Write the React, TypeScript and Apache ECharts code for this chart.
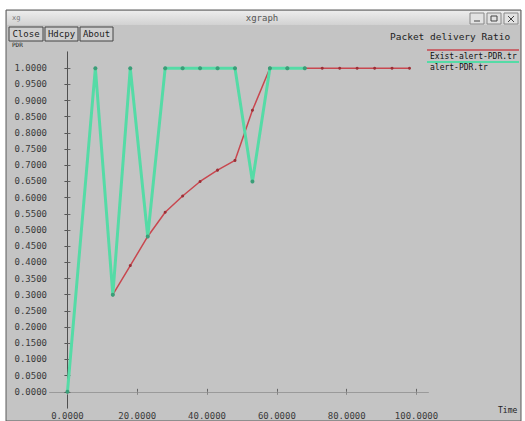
import React, { useEffect, useRef } from "react";
import * as echarts from "echarts";

const xTicks = [0, 20, 40, 60, 80, 100];
const yTicks = [0, 0.05, 0.1, 0.15, 0.2, 0.25, 0.3, 0.35, 0.4, 0.45, 0.5, 0.55, 0.6, 0.65, 0.7, 0.75, 0.8, 0.85, 0.9, 0.95, 1.0];

const redName = "Exist-alert-PDR.tr";
const redX = [13, 18, 23, 28, 33, 38, 43, 48, 53, 58, 63, 68, 73, 78, 83, 88, 93, 98];
const redY = [0.3, 0.39, 0.48, 0.555, 0.605, 0.65, 0.685, 0.715, 0.87, 1, 1, 1, 1, 1, 1, 1, 1, 1];

const greenName = "alert-PDR.tr";
const greenX = [0, 8, 13, 18, 23, 28, 33, 38, 43, 48, 53, 58, 63, 68];
const greenY = [0, 1, 0.3, 1, 0.48, 1, 1, 1, 1, 1, 0.65, 1, 1, 1];

const RED = "#c8474f";
const GREEN = "#55dba6";
const MONO = "DejaVu Sans Mono";

export default function App() {
  const ref = useRef<HTMLDivElement>(null);
  useEffect(() => {
    if (!ref.current) return;
    const chart = echarts.init(ref.current, undefined, { renderer: "svg" });
    const axisLineStyle = { color: "#7a7a7a", width: 1 };
    const labelStyle = { color: "#3a3a3a", fontSize: 9, fontFamily: MONO };
    const mkBtn = (x: number, w: number, label: string) => [
      { type: "rect", z: -5, shape: { x, y: 27, width: w, height: 14 }, style: { fill: "#cfcfcf", stroke: "#444", lineWidth: 1 } },
      { type: "text", z: -4, x: x + w / 2, y: 34, style: { text: label, fill: "#222", font: `9px ${MONO}`, align: "center", verticalAlign: "middle" } },
    ];
    const option: any = {
      animation: false,
      backgroundColor: "#ffffff",
      grid: { left: 50, top: 52, width: 378, height: 356 },
      xAxis: [
        {
          type: "value", min: -5, max: 103.3, position: "bottom",
          axisLine: { show: true, lineStyle: axisLineStyle },
          axisTick: { show: true, inside: true, length: 3, customValues: xTicks, lineStyle: { color: "#666" } },
          axisLabel: { customValues: xTicks, formatter: (v: number) => v.toFixed(4), margin: 3, ...labelStyle },
          splitLine: { show: false },
        },
        {
          type: "value", min: -5, max: 103.3, position: "top",
          axisLine: { show: true, lineStyle: { color: "#9a9a9a", width: 1 } },
          axisTick: { show: true, inside: true, length: 3, customValues: xTicks, lineStyle: { color: "#888" } },
          axisLabel: { show: false },
          splitLine: { show: false },
        },
      ],
      yAxis: [
        {
          type: "value", min: -0.05, max: 1.05, position: "left",
          axisLine: { show: true, lineStyle: axisLineStyle },
          axisTick: { show: true, inside: true, length: 3, customValues: yTicks, lineStyle: { color: "#666" } },
          axisLabel: { customValues: yTicks, formatter: (v: number) => v.toFixed(4), margin: 3, ...labelStyle },
          splitLine: { show: false },
        },
        {
          type: "value", min: -0.05, max: 1.05, position: "right",
          axisLine: { show: true, lineStyle: { color: "#505050", width: 1 } },
          axisTick: { show: true, inside: true, length: 3, customValues: yTicks, lineStyle: { color: "#555" } },
          axisLabel: { show: false },
          splitLine: { show: false },
        },
      ],
      graphic: [
        { type: "rect", z: -10, shape: { x: 6, y: 10, width: 515, height: 411 }, style: { fill: "#c4c4c4", stroke: "#5a5a5a", lineWidth: 1 } },
        {
          type: "rect", z: -9, shape: { x: 7, y: 11, width: 513, height: 14 },
          style: { fill: new echarts.graphic.LinearGradient(0, 0, 0, 1, [{ offset: 0, color: "#ececec" }, { offset: 1, color: "#d2d2d2" }]) },
        },
        { type: "text", z: -8, x: 262, y: 18, style: { text: "xgraph", fill: "#555", font: `9px ${MONO}`, align: "center", verticalAlign: "middle" } },
        { type: "text", z: -8, x: 12, y: 18, style: { text: "xg", fill: "#777", font: `7px ${MONO}`, verticalAlign: "middle" } },
        { type: "rect", z: -8, shape: { x: 470, y: 13, width: 14, height: 11 }, style: { fill: "#e2e2e2", stroke: "#888" } },
        { type: "rect", z: -8, shape: { x: 487, y: 13, width: 14, height: 11 }, style: { fill: "#e2e2e2", stroke: "#888" } },
        { type: "rect", z: -8, shape: { x: 504, y: 13, width: 14, height: 11 }, style: { fill: "#e2e2e2", stroke: "#888" } },
        { type: "line", z: -7, shape: { x1: 474, y1: 21, x2: 480, y2: 21 }, style: { stroke: "#444", lineWidth: 1 } },
        { type: "rect", z: -7, shape: { x: 491, y: 16, width: 6, height: 5 }, style: { fill: "none", stroke: "#444", lineWidth: 1 } },
        { type: "line", z: -7, shape: { x1: 508, y1: 16, x2: 514, y2: 22 }, style: { stroke: "#444", lineWidth: 1 } },
        { type: "line", z: -7, shape: { x1: 514, y1: 16, x2: 508, y2: 22 }, style: { stroke: "#444", lineWidth: 1 } },
        ...mkBtn(9, 34, "Close"),
        ...mkBtn(45, 33, "Hdcpy"),
        ...mkBtn(80, 33, "About"),
        { type: "text", z: -4, x: 390, y: 36, style: { text: "Packet delivery Ratio", fill: "#222", font: `9.5px ${MONO}`, verticalAlign: "middle" } },
        { type: "text", z: -4, x: 12, y: 44, style: { text: "PDR", fill: "#222", font: `6px ${MONO}`, verticalAlign: "middle" } },
        { type: "text", z: -4, x: 498, y: 410, style: { text: "Time", fill: "#222", font: `8px ${MONO}`, verticalAlign: "middle" } },
        { type: "line", z: 5, shape: { x1: 427, y1: 50, x2: 519, y2: 50 }, style: { stroke: RED, lineWidth: 1.5 } },
        { type: "text", z: 6, x: 430, y: 56, style: { text: redName, fill: "#111", font: `8px ${MONO}`, verticalAlign: "middle" } },
        { type: "line", z: 5, shape: { x1: 427, y1: 62, x2: 519, y2: 62 }, style: { stroke: GREEN, lineWidth: 2 } },
        { type: "text", z: 6, x: 430, y: 67, style: { text: greenName, fill: "#111", font: `8px ${MONO}`, verticalAlign: "middle" } },
      ],
      series: [
        {
          name: redName, type: "line", xAxisIndex: 0, yAxisIndex: 0,
          data: redX.map((x, i) => [x, redY[i]]),
          lineStyle: { color: RED, width: 1.5 },
          itemStyle: { color: "#9c2f36" },
          symbol: "circle", symbolSize: 3,
        },
        {
          name: greenName, type: "line", xAxisIndex: 0, yAxisIndex: 0,
          data: greenX.map((x, i) => [x, greenY[i]]),
          lineStyle: { color: GREEN, width: 3 },
          itemStyle: { color: "#3a9e78" },
          symbol: "circle", symbolSize: 4,
        },
      ],
    };
    chart.setOption(option);
    return () => chart.dispose();
  }, []);
  return (
    <div
      ref={ref}
      style={{ position: "fixed", left: 0, top: 0, width: 525, height: 421 }}
    />
  );
}
